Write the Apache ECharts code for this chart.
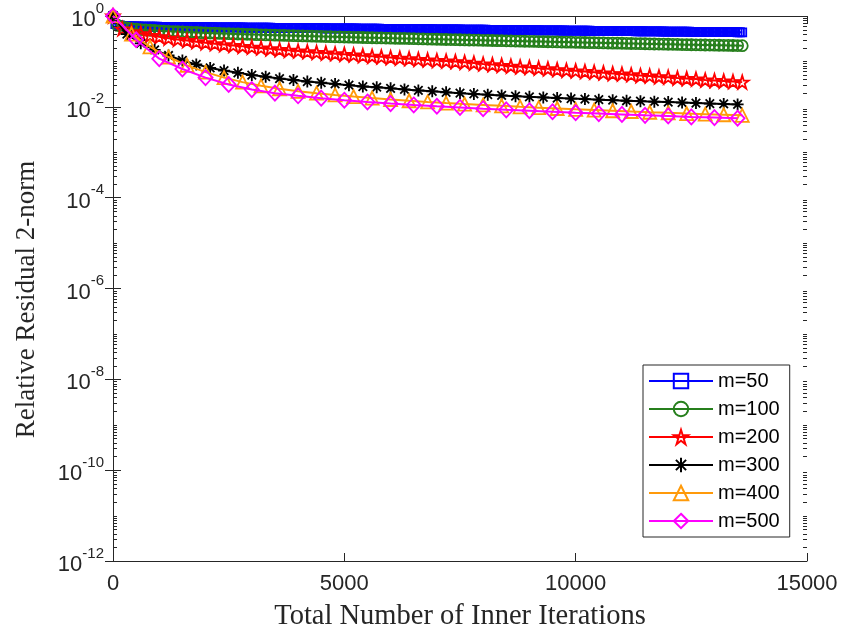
<!DOCTYPE html>
<html>
<head>
<meta charset="utf-8">
<script src="https://cdn.jsdelivr.net/npm/echarts@6/dist/echarts.min.js"></script>
<style>
  html, body { margin: 0; padding: 0; background: #fff; }
  #chart { width: 841px; height: 636px; }
</style>
</head>
<body>
<div id="chart"></div>
<script>
// Restart lengths and names of the six GMRES(m) runs
const restartLengths = [50, 100, 200, 300, 400, 500];
const seriesNames = ['m=50', 'm=100', 'm=200', 'm=300', 'm=400', 'm=500'];

// Relative residual after each restart cycle (cycle k ends at k*m inner iterations)
const resM50 = [
  1.000, 0.660, 0.632, 0.617, 0.607, 0.601, 0.597, 0.594, 0.592, 0.590,
  0.588, 0.587, 0.586, 0.585, 0.584, 0.583, 0.582, 0.581, 0.580, 0.580,
  0.579, 0.578, 0.578, 0.577, 0.576, 0.576, 0.575, 0.574, 0.574, 0.573,
  0.573, 0.572, 0.571, 0.571, 0.570, 0.570, 0.569, 0.568, 0.568, 0.567,
  0.567, 0.566, 0.566, 0.565, 0.564, 0.564, 0.563, 0.563, 0.562, 0.562,
  0.561, 0.560, 0.560, 0.559, 0.559, 0.558, 0.558, 0.557, 0.556, 0.556,
  0.555, 0.555, 0.554, 0.554, 0.553, 0.552, 0.552, 0.551, 0.551, 0.550,
  0.550, 0.549, 0.548, 0.548, 0.547, 0.547, 0.546, 0.546, 0.545, 0.544,
  0.544, 0.543, 0.543, 0.542, 0.542, 0.541, 0.540, 0.540, 0.539, 0.539,
  0.538, 0.538, 0.537, 0.536, 0.536, 0.535, 0.535, 0.534, 0.534, 0.533,
  0.532, 0.532, 0.531, 0.531, 0.530, 0.530, 0.529, 0.528, 0.528, 0.527,
  0.527, 0.526, 0.526, 0.525, 0.524, 0.524, 0.523, 0.523, 0.522, 0.522,
  0.521, 0.520, 0.520, 0.519, 0.519, 0.518, 0.518, 0.517, 0.516, 0.516,
  0.515, 0.515, 0.514, 0.514, 0.513, 0.512, 0.512, 0.511, 0.511, 0.510,
  0.510, 0.509, 0.508, 0.508, 0.507, 0.507, 0.506, 0.506, 0.505, 0.504,
  0.504, 0.503, 0.503, 0.502, 0.502, 0.501, 0.500, 0.500, 0.499, 0.499,
  0.498, 0.498, 0.497, 0.497, 0.496, 0.495, 0.495, 0.494, 0.494, 0.493,
  0.493, 0.492, 0.492, 0.491, 0.490, 0.490, 0.489, 0.489, 0.488, 0.488,
  0.487, 0.487, 0.486, 0.486, 0.485, 0.484, 0.484, 0.483, 0.483, 0.482,
  0.482, 0.481, 0.481, 0.480, 0.480, 0.479, 0.478, 0.478, 0.477, 0.477,
  0.476, 0.476, 0.475, 0.475, 0.474, 0.474, 0.473, 0.472, 0.472, 0.471,
  0.471, 0.470, 0.470, 0.469, 0.469, 0.468, 0.468, 0.467, 0.467, 0.466,
  0.465, 0.465, 0.464, 0.464, 0.463, 0.463, 0.462, 0.462, 0.461, 0.461,
  0.460, 0.460, 0.459, 0.458, 0.458, 0.457, 0.457, 0.456, 0.456, 0.455,
  0.455, 0.454, 0.454, 0.453, 0.453, 0.452, 0.452, 0.451, 0.451, 0.450,
  0.449, 0.449, 0.448, 0.448, 0.447, 0.447, 0.446, 0.446, 0.445, 0.445,
  0.444, 0.444, 0.443, 0.443, 0.442, 0.442, 0.441, 0.441, 0.440, 0.440,
  0.439, 0.439, 0.438
];
const resM100 = [
  1.000, 0.620, 0.572, 0.545, 0.527, 0.514, 0.503, 0.494, 0.486, 0.479,
  0.472, 0.466, 0.460, 0.455, 0.450, 0.445, 0.441, 0.437, 0.433, 0.429,
  0.425, 0.421, 0.418, 0.414, 0.411, 0.408, 0.404, 0.401, 0.398, 0.395,
  0.392, 0.389, 0.386, 0.384, 0.381, 0.378, 0.376, 0.373, 0.371, 0.368,
  0.366, 0.364, 0.361, 0.359, 0.357, 0.355, 0.353, 0.350, 0.348, 0.346,
  0.344, 0.342, 0.340, 0.338, 0.336, 0.334, 0.332, 0.330, 0.329, 0.327,
  0.325, 0.323, 0.321, 0.320, 0.318, 0.316, 0.314, 0.313, 0.311, 0.309,
  0.308, 0.306, 0.304, 0.303, 0.301, 0.300, 0.298, 0.296, 0.295, 0.293,
  0.292, 0.290, 0.289, 0.287, 0.286, 0.284, 0.283, 0.281, 0.280, 0.278,
  0.277, 0.276, 0.274, 0.273, 0.271, 0.270, 0.269, 0.267, 0.266, 0.265,
  0.263, 0.262, 0.261, 0.259, 0.258, 0.257, 0.256, 0.254, 0.253, 0.252,
  0.251, 0.249, 0.248, 0.247, 0.246, 0.245, 0.243, 0.242, 0.241, 0.240,
  0.239, 0.238, 0.237, 0.235, 0.234, 0.233, 0.232, 0.231, 0.230, 0.229,
  0.228, 0.227, 0.226, 0.225, 0.224, 0.223, 0.222
];
const resM200 = [
  1.000, 0.520, 0.450, 0.410, 0.375, 0.350, 0.325, 0.305, 0.288, 0.272,
  0.258, 0.246, 0.235, 0.225, 0.215, 0.206, 0.198, 0.190, 0.183, 0.176,
  0.170, 0.164, 0.158, 0.153, 0.148, 0.143, 0.139, 0.134, 0.130, 0.126,
  0.122, 0.118, 0.115, 0.111, 0.108, 0.105, 0.102, 0.099, 0.096, 0.092,
  0.088, 0.085, 0.082, 0.079, 0.076, 0.074, 0.071, 0.069, 0.066, 0.064,
  0.062, 0.060, 0.058, 0.056, 0.054, 0.053, 0.051, 0.049, 0.048, 0.046,
  0.045, 0.043, 0.042, 0.041, 0.039, 0.038, 0.037, 0.036, 0.035
];
const resM300 = [
  1.000, 0.400, 0.250, 0.180, 0.135, 0.105, 0.086, 0.072, 0.063, 0.056,
  0.050, 0.046, 0.042, 0.039, 0.036, 0.034, 0.032, 0.030, 0.028, 0.027,
  0.0255, 0.0242, 0.0230, 0.0219, 0.0209, 0.0200, 0.0192, 0.0185, 0.0178, 0.0172,
  0.0166, 0.0161, 0.0156, 0.0152, 0.0148, 0.0144, 0.0140, 0.0136, 0.0133, 0.0130,
  0.0127, 0.0124, 0.0121, 0.0118, 0.0116, 0.0113
];
const resM400 = [
  1.000, 0.400, 0.210, 0.125, 0.082, 0.058, 0.044, 0.035, 0.029, 0.025,
  0.0220, 0.0200, 0.0183, 0.0168, 0.0156, 0.0145, 0.0136, 0.0128, 0.0121, 0.0115,
  0.0110, 0.0105, 0.0100, 0.0096, 0.0092, 0.0088, 0.0085, 0.0082, 0.0079, 0.0076,
  0.0074, 0.0071, 0.0069, 0.0067, 0.0065
];
const resM500 = [
  1.000, 0.300, 0.115, 0.068, 0.044, 0.031, 0.024, 0.020, 0.0175, 0.0155,
  0.0140, 0.0128, 0.0118, 0.0110, 0.0103, 0.0097, 0.0091, 0.0086, 0.0082, 0.0078,
  0.0074, 0.0071, 0.0068, 0.0065, 0.0063, 0.0060, 0.0058, 0.0056
];

// Axis ranges and tick values
const xTicks = [0, 5000, 10000, 15000];
const yTicks = [1e-12, 1e-10, 1e-8, 1e-6, 1e-4, 1e-2, 1];
const yMin = 1e-12;
const yMax = 1;

const residuals = [resM50, resM100, resM200, resM300, resM400, resM500];

const lineColors = ['#0000ff', '#267f1c', '#ff0000', '#000000', '#ff9a0a', '#ff00ff'];
const STAR = 'path://M0,-10 L2.245,-3.09 L9.511,-3.09 L3.633,1.18 L5.878,8.09 L0,3.82 L-5.878,8.09 L-3.633,1.18 L-9.511,-3.09 L-2.245,-3.09 Z';
const ASTERISK = 'path://M0,-10 L0,10 M-10,0 L10,0 M-7.07,-7.07 L7.07,7.07 M-7.07,7.07 L7.07,-7.07';
const markers = ['rect', 'circle', STAR, ASTERISK, 'triangle', 'diamond'];
const markerSizes = [8, 11, 13, 12, 13, [14, 15]];

const AX = '#262626';
const SANS = 'Liberation Sans, Arial, Helvetica, sans-serif';
const SERIF = 'Liberation Serif, Times New Roman, serif';

const chart = echarts.init(document.getElementById('chart'), null, { renderer: 'canvas' });

const series = residuals.map((vals, i) => ({
  name: seriesNames[i],
  type: 'line',
  xAxisIndex: 0,
  yAxisIndex: 0,
  data: vals.map((v, k) => [k * restartLengths[i], v]),
  symbol: markers[i],
  symbolSize: markerSizes[i],
  showSymbol: true,
  showAllSymbol: true,
  lineStyle: { color: lineColors[i], width: 2 },
  itemStyle: { color: 'transparent', borderColor: lineColors[i], borderWidth: 1.8 },
  emphasis: { disabled: true },
  z: 2 + i
}));

const tickLabel = { fontFamily: SANS, fontSize: 22, color: AX };
const yLabelFormat = v => '{b|10}{s|' + Math.round(Math.log10(v)) + '}';

chart.setOption({
  animation: false,
  backgroundColor: '#fff',
  grid: { left: 113, right: 34, top: 16, bottom: 71 },
  legend: {
    orient: 'vertical',
    left: 643,
    top: 365,
    itemWidth: 64,
    itemHeight: 18,
    itemGap: 8,
    padding: [6, 10, 6, 5],
    backgroundColor: '#fff',
    borderColor: AX,
    borderWidth: 1,
    borderRadius: 0,
    textStyle: { fontFamily: SANS, fontSize: 20, color: '#000' },
    data: seriesNames
  },
  xAxis: [{
    type: 'value',
    min: 0, max: 15000, interval: 5000,
    position: 'bottom',
    name: 'Total Number of Inner Iterations',
    nameLocation: 'middle',
    nameGap: 41,
    nameTextStyle: { fontFamily: SERIF, fontSize: 28.5, color: AX },
    axisLine: { show: true, lineStyle: { color: AX, width: 1 } },
    axisTick: { show: true, inside: true, length: 8, lineStyle: { color: AX } },
    axisLabel: Object.assign({ margin: 12, formatter: v => (xTicks.indexOf(v) >= 0 ? String(v) : '') }, tickLabel),
    splitLine: { show: false }
  }, {
    type: 'value',
    min: 0, max: 15000, interval: 5000,
    position: 'top',
    axisLine: { show: true, lineStyle: { color: AX, width: 1 } },
    axisTick: { show: true, inside: true, length: 8, lineStyle: { color: AX } },
    axisLabel: { show: false },
    splitLine: { show: false }
  }],
  yAxis: [{
    type: 'log',
    logBase: 10,
    min: yMin, max: yMax,
    position: 'left',
    name: 'Relative Residual 2-norm',
    nameLocation: 'middle',
    nameGap: 73,
    nameTextStyle: { fontFamily: SERIF, fontSize: 27, color: AX, padding: [0, 22, 0, 0] },
    axisLine: { show: true, lineStyle: { color: AX, width: 1 } },
    axisTick: { show: true, inside: true, length: 8, lineStyle: { color: AX }, customValues: yTicks },
    axisLabel: {
      margin: 9,
      customValues: yTicks,
      formatter: yLabelFormat,
      rich: {
        b: { fontFamily: SANS, fontSize: 22, color: AX, lineHeight: 30, verticalAlign: 'bottom' },
        s: { fontFamily: SANS, fontSize: 15, color: AX, lineHeight: 16, verticalAlign: 'top' }
      }
    },
    splitLine: { show: false }
  }, {
    type: 'log',
    logBase: 10,
    min: yMin, max: yMax,
    position: 'right',
    axisLine: { show: true, lineStyle: { color: AX, width: 1 } },
    axisTick: { show: true, inside: true, length: 8, lineStyle: { color: AX }, customValues: yTicks },
    axisLabel: { show: false, customValues: yTicks },
    splitLine: { show: false }
  }],
  series: series
});

// Logarithmic minor ticks (2..9 per decade, plus odd decades) on both vertical sides
function drawMinorTicks() {
  const left = chart.convertToPixel({ xAxisIndex: 0 }, 0);
  const right = chart.convertToPixel({ xAxisIndex: 0 }, 15000);
  const elements = [];
  for (let d = -12; d < 0; d++) {
    for (let m = 1; m <= 9; m++) {
      if (m === 1 && d % 2 === 0) continue;
      const y = Math.round(chart.convertToPixel({ yAxisIndex: 0 }, m * Math.pow(10, d))) + 0.5;
      elements.push({ type: 'line', shape: { x1: left, y1: y, x2: left + 4, y2: y }, style: { stroke: AX, lineWidth: 1 }, z: 100, silent: true });
      elements.push({ type: 'line', shape: { x1: right - 4, y1: y, x2: right, y2: y }, style: { stroke: AX, lineWidth: 1 }, z: 100, silent: true });
    }
  }
  chart.setOption({ graphic: { elements: elements } });
}
drawMinorTicks();
</script>
</body>
</html>
